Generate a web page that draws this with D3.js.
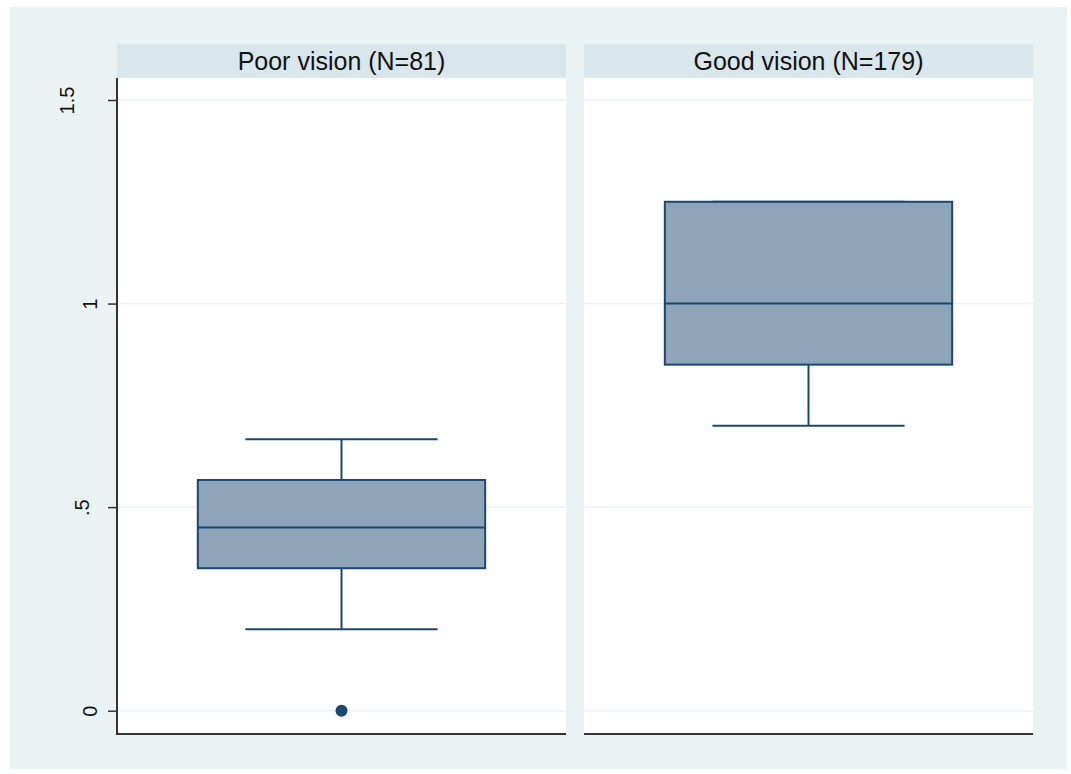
<!DOCTYPE html>
<html>
<head>
<meta charset="utf-8">
<script src="https://cdn.jsdelivr.net/npm/d3@7"></script>
<style>
  html, body { margin: 0; padding: 0; background: #ffffff; }
  svg { display: block; }
  text { font-family: "Liberation Sans", Arial, sans-serif; }
</style>
</head>
<body>
<svg id="chart" width="1071" height="774"></svg>
<script>
// ---- data ----
const panelTitles = ["Poor vision (N=81)", "Good vision (N=179)"];
const lowerWhisker = [0.2, 0.7];
const q1 = [0.35, 0.85];
const median = [0.45, 1.0];
const q3 = [0.5667, 1.25];
const upperWhisker = [0.6667, 1.25];
const outliers = [[0], []];
const yTickValues = [0, 0.5, 1, 1.5];
const yTickLabels = ["0", ".5", "1", "1.5"];

// ---- layout ----
const svg = d3.select("#chart");
const outer = { x: 10, y: 7, w: 1057, h: 762 };
const panelX = [[117, 566], [584, 1033]];
const headerTop = 44, plotTop = 78, plotBottom = 734;

const colBg = "#eaf2f3", colHeader = "#d9e6eb", colFill = "#8ea4b8", colLine = "#1a476f";

svg.append("rect").attr("x", outer.x).attr("y", outer.y)
  .attr("width", outer.w).attr("height", outer.h).attr("fill", colBg);

const y = d3.scaleLinear().domain([0, 1.5]).range([710.7, 100]);

panelTitles.forEach((title, i) => {
  const [x0, x1] = panelX[i];
  const x = d3.scaleLinear().domain([0, 1]).range([x0, x1]);
  const g = svg.append("g");

  // header strip
  g.append("rect").attr("x", x0).attr("y", headerTop)
    .attr("width", x1 - x0).attr("height", plotTop - headerTop).attr("fill", colHeader);
  g.append("text").attr("x", x(0.5)).attr("y", (headerTop + plotTop) / 2 + 8.5)
    .attr("text-anchor", "middle").attr("font-size", 25).attr("fill", "#111")
    .text(title);

  // plot background
  g.append("rect").attr("x", x0).attr("y", plotTop)
    .attr("width", x1 - x0).attr("height", plotBottom - plotTop).attr("fill", "#ffffff");

  // gridlines
  g.selectAll("line.grid").data(yTickValues).enter().append("line")
    .attr("x1", x0).attr("x2", x1)
    .attr("y1", d => y(d)).attr("y2", d => y(d))
    .attr("stroke", colBg).attr("stroke-width", 1.6);

  // whiskers
  const cx = x(0.5);
  g.append("line").attr("x1", cx).attr("x2", cx)
    .attr("y1", y(q3[i])).attr("y2", y(upperWhisker[i]))
    .attr("stroke", colLine).attr("stroke-width", 2);
  g.append("line").attr("x1", cx).attr("x2", cx)
    .attr("y1", y(q1[i])).attr("y2", y(lowerWhisker[i]))
    .attr("stroke", colLine).attr("stroke-width", 2);
  [lowerWhisker[i], upperWhisker[i]].forEach(v => {
    g.append("line").attr("x1", x(0.5 - 0.214)).attr("x2", x(0.5 + 0.214))
      .attr("y1", y(v)).attr("y2", y(v))
      .attr("stroke", colLine).attr("stroke-width", 2);
  });

  // box
  g.append("rect").attr("x", x(0.5 - 0.32)).attr("y", y(q3[i]))
    .attr("width", x(0.5 + 0.32) - x(0.5 - 0.32))
    .attr("height", y(q1[i]) - y(q3[i]))
    .attr("fill", colFill).attr("stroke", colLine).attr("stroke-width", 2);
  g.append("line").attr("x1", x(0.5 - 0.32)).attr("x2", x(0.5 + 0.32))
    .attr("y1", y(median[i])).attr("y2", y(median[i]))
    .attr("stroke", colLine).attr("stroke-width", 2);

  // outliers
  g.selectAll("circle.out").data(outliers[i]).enter().append("circle")
    .attr("cx", cx).attr("cy", d => y(d)).attr("r", 6)
    .attr("fill", colLine);

  // bottom axis line
  g.append("line").attr("x1", x0).attr("x2", x1)
    .attr("y1", plotBottom).attr("y2", plotBottom)
    .attr("stroke", "#333").attr("stroke-width", 2);
});

// y axis on first panel
const yAxis = d3.axisLeft(y).tickValues(yTickValues)
  .tickFormat((d, k) => yTickLabels[k]).tickSize(9).tickSizeOuter(0);
const ag = svg.append("g").attr("transform", `translate(${panelX[0][0]},0)`).call(yAxis);
ag.select(".domain").remove();
ag.append("line").attr("x1", 0).attr("x2", 0).attr("y1", plotTop).attr("y2", plotBottom + 1)
  .attr("stroke", "#333").attr("stroke-width", 2);
ag.selectAll(".tick line").attr("stroke", "#333").attr("stroke-width", 1.5);
const labels = ag.selectAll(".tick text")
  .attr("font-family", "Liberation Sans, Arial, sans-serif")
  .attr("font-size", 20).attr("fill", "#111")
  .attr("x", null).attr("dy", null)
  .attr("text-anchor", "middle")
  .attr("dominant-baseline", "central");
// Stata-like placement: longer labels sit further from the axis
const baseLen = 11.1;
labels.each(function () {
  const len = this.getComputedTextLength();
  const cxOff = -27 - 1.4 * Math.max(0, len - baseLen);
  d3.select(this).attr("transform", `translate(${cxOff},0) rotate(-90)`);
});
</script>
</body>
</html>
